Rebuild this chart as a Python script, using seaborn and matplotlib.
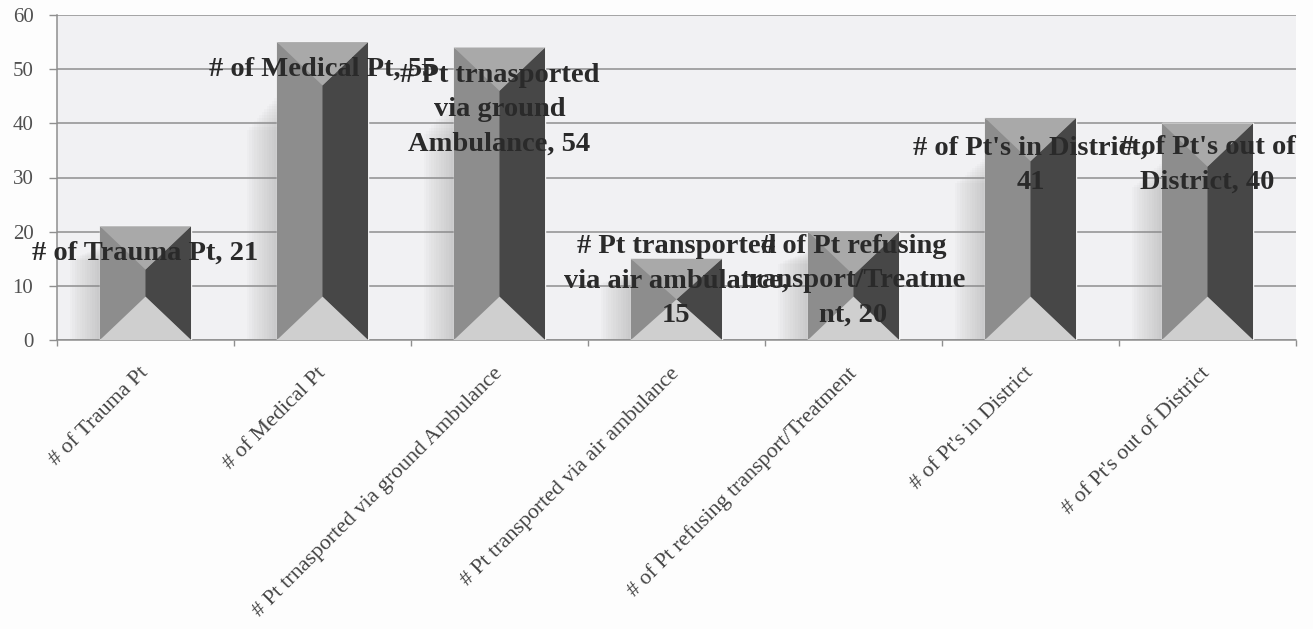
"""
Patient counts as bevelled bars, redrawn from a scanned chart.
"""
import pandas as pd
import matplotlib
matplotlib.use('Agg')
import matplotlib.pyplot as plt
from matplotlib.patches import Polygon, Rectangle
import seaborn as sns

categories = ["# of Trauma Pt", "# of Medical Pt", "# Pt trnasported via ground Ambulance",
              "# Pt transported via air ambulance", "# of Pt refusing transport/Treatment",
              "# of Pt's in District", "# of Pt's out of District"]
values = [21, 55, 54, 15, 20, 41, 40]
data_labels = ["# of Trauma Pt, 21", "# of Medical Pt, 55", "# Pt trnasported\nvia ground\nAmbulance, 54",
               "# Pt transported\nvia air ambulance,\n15", "# of Pt refusing\ntransport/Treatme\nnt, 20",
               "# of Pt's in District,\n41", "# of Pt's out of\nDistrict, 40"]
label_y = [16, 50, 42.5, 10.9, 10.9, 32.3, 32.3]

BEVEL = 8
TEXT = '#2a2a2a'
GRID = '#8f8f8f'

sns.set_theme(style='white')
plt.rcParams['font.family'] = ['Liberation Serif', 'DejaVu Serif']

df = pd.DataFrame({'category': categories, 'value': values})

fig = plt.figure(figsize=(13.13, 6.29), dpi=100, facecolor='#fdfdfd')
ax = fig.add_axes([57 / 1313, 1 - 340 / 629, (1296 - 57) / 1313, 325 / 629])
ax.set_facecolor('#f1f1f3')

sns.barplot(data=df, x='category', y='value', color='#8f8f8f', width=0.515,
            saturation=1, ax=ax, zorder=3)
ax.set_xlim(-0.5, 6.5)
ax.set_ylim(0, 60)

ax.set_yticks(range(0, 61, 10))
ax.grid(axis='y', color=GRID, lw=1.1, zorder=0)
ax.set_axisbelow(True)
ax.set_xlabel('')
ax.set_ylabel('')
ax.set_xticks(range(7))
ax.set_xticklabels(categories, rotation=45, ha='right', va='center', rotation_mode='anchor',
                   fontsize=15.8, color='#444444')
ax.set_xticks([i - 0.5 for i in range(8)], minor=True)
ax.tick_params(axis='x', which='major', length=0, pad=22)
ax.tick_params(axis='x', which='minor', length=4, color=GRID, width=1, bottom=True)
ax.tick_params(axis='y', length=6, color=GRID, width=1, left=True, pad=11,
               labelsize=15, labelcolor='#505050')
for side in ['top', 'right']:
    ax.spines[side].set_visible(False)
for side in ['left', 'bottom']:
    ax.spines[side].set_color(GRID)
    ax.spines[side].set_linewidth(1.1)

for bar, value in zip(ax.patches, values):
    x0, w = bar.get_x(), bar.get_width()
    mid = x0 + w / 2
    x1 = x0 + w
    upper = max(value - BEVEL, value / 2)
    lower = min(BEVEL, value / 2)

    # soft shadow to the left of the bar, fading towards the top and the left
    shadow_top = value * 0.82
    for k in range(12):
        ax.add_patch(Rectangle((x0 - 0.17 + k * 0.014, 0), 0.17 - k * 0.014,
                               shadow_top * (0.86 + k * 0.012),
                               facecolor='#909090', edgecolor='none', alpha=0.035, zorder=1))

    facets = [
        ([(x0, 0), (mid, lower), (mid, upper), (x0, value)], '#8d8d8d'),
        ([(x1, 0), (mid, lower), (mid, upper), (x1, value)], '#474747'),
        ([(x0, value), (x1, value), (mid, upper)], '#a9a9a9'),
        ([(x0, 0), (x1, 0), (mid, lower)], '#cfcfcf'),
    ]
    for pts, colour in facets:
        ax.add_patch(Polygon(pts, closed=True, facecolor=colour, edgecolor='none', zorder=4))

for i, (txt, y) in enumerate(zip(data_labels, label_y)):
    ax.text(i, y, txt, ha='center', va='center', fontsize=20.5, fontweight='bold',
            color=TEXT, linespacing=1.5, zorder=6)

plt.savefig('out.png', dpi=100, facecolor=fig.get_facecolor())
plt.close()
